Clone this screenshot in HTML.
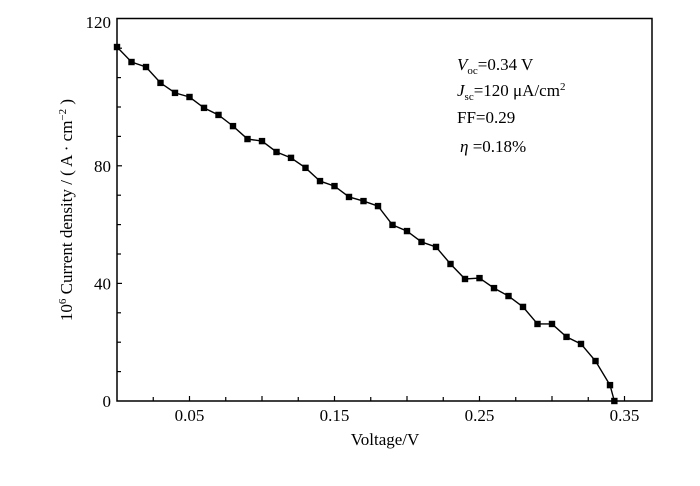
<!DOCTYPE html>
<html><head><meta charset="utf-8"><style>
body{margin:0;background:#fff}
svg text{font-family:"Liberation Serif","Noto Serif CJK SC",serif;fill:#000}
</style></head><body>
<svg id="chart" width="700" height="481" xmlns="http://www.w3.org/2000/svg">
<rect x="117" y="18.5" width="535" height="382.5" fill="none" stroke="#000" stroke-width="1.5"/>
<g id="ticks"></g><g id="series"></g>
<text x="385" y="445" font-size="17" text-anchor="middle">Voltage/V</text>
<text transform="translate(72,210) rotate(-90)" font-size="17" text-anchor="middle">10<tspan font-size="11" dy="-6">6</tspan><tspan dy="6"> Current density / ( A · cm</tspan><tspan font-size="11" dy="-6">−2</tspan><tspan dy="6"> )</tspan></text>
<g font-size="17">
<text x="457" y="70"><tspan font-style="italic">V</tspan><tspan font-size="11" dy="4">oc</tspan><tspan dy="-4">=0.34 V</tspan></text>
<text x="457" y="96"><tspan font-style="italic">J</tspan><tspan font-size="11" dy="4">sc</tspan><tspan dy="-4">=120  μA/cm</tspan><tspan font-size="11" dy="-6">2</tspan></text>
<text x="457" y="123">FF=0.29</text>
<text x="460" y="152"><tspan font-style="italic">η</tspan> =0.18%</text>
</g>
</svg>
<script>
const voltage=[0,0.01,0.02,0.03,0.04,0.05,0.06,0.07,0.08,0.09,0.10,0.11,0.12,0.13,0.14,0.15,0.16,0.17,0.18,0.19,0.20,0.21,0.22,0.23,0.24,0.25,0.26,0.27,0.28,0.29,0.30,0.31,0.32,0.33,0.34,0.343];
const current=[120.4,115.3,113.6,108.2,104.8,103.4,99.7,97.3,93.5,89.1,88.4,84.7,82.7,79.3,74.8,73.1,69.4,68.0,66.3,59.9,57.8,54.1,52.4,46.6,41.5,41.8,38.4,35.7,32.0,26.2,26.2,21.8,19.4,13.6,5.4,0];
const xTickLabels=[0.05,0.15,0.25,0.35];
const yTickLabels=[0,40,80,120];
const NS="http://www.w3.org/2000/svg";
const X=v=>117+v*1450, Y=v=>401-v*2.94;
function mk(t,a,p){const e=document.createElementNS(NS,t);for(const k in a)e.setAttribute(k,a[k]);p.appendChild(e);return e;}
const tk=document.getElementById('ticks'),sr=document.getElementById('series');
for(let i=1;i<=14;i++){const v=i*0.025;const l=mk('line',{x1:X(v),x2:X(v),y1:401,y2:i%2==0?396:397,stroke:'#000','stroke-width':1.2},tk);
}
for(let i=1;i<=12;i++){const v=i*10;const l=mk('line',{x1:117,x2:i%4==0?122:121,y1:Y(v),y2:Y(v),stroke:'#000','stroke-width':1.2},tk);
}
xTickLabels.forEach(v=>{const t=mk('text',{x:X(v),y:421,'font-size':17,'text-anchor':'middle'},tk);t.textContent=v.toFixed(2);
});
const yTop=Math.max(...yTickLabels);
yTickLabels.forEach(v=>{const yy=(v===yTop?22:Y(v))+6;const t=mk('text',{x:111,y:yy,'font-size':17,'text-anchor':'end'},tk);t.textContent=v;
});
const line=mk('polyline',{points:voltage.map((v,i)=>X(v)+','+Y(current[i])).join(' '),fill:'none',stroke:'#000','stroke-width':1.4},sr);

voltage.forEach((v,i)=>{const r=mk('rect',{x:X(v)-3.2,y:Y(current[i])-3.2,width:6.4,height:6.4,fill:'#000'},sr);
});
</script>
</body></html>
